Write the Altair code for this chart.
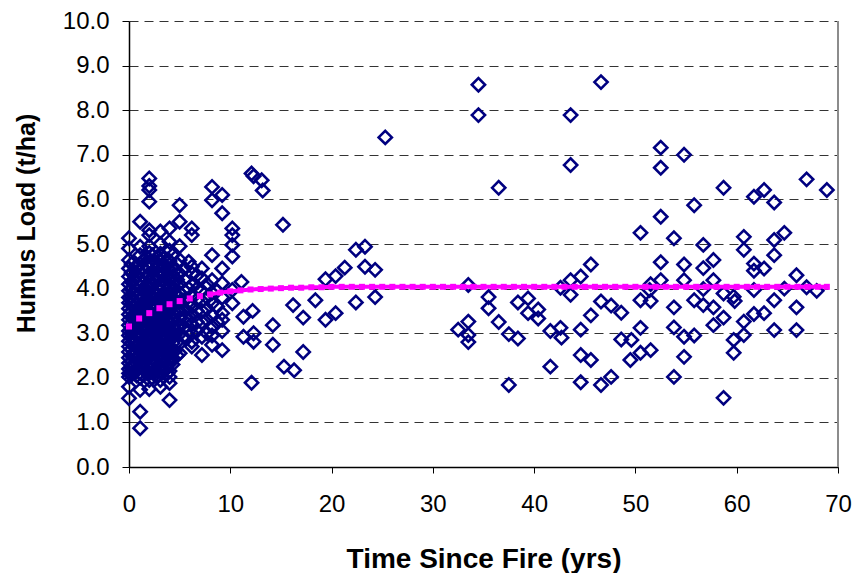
import altair as alt
import pandas as pd

# ---- observed humus loads, dense early-years columns (x position, list of loads) ----
col_x = [0.0, 0.25, 0.5, 0.75, 1.1, 1.35, 1.6, 1.8, 2.0, 2.3, 2.6, 2.85, 3.1, 3.35, 3.6, 3.8,
         4.0, 4.3, 4.5, 4.75, 5.0, 5.5, 5.9, 6.2, 6.7, 7.2, 7.7, 8.2, 8.7, 9.2, 10.2]
col_y = [
    [5.13, 4.9, 4.64, 4.45, 4.27, 4.1, 3.95, 3.8, 3.68, 3.55, 3.42, 3.3, 3.18, 3.05, 2.95, 2.82,
     2.7, 2.58, 2.45, 2.33, 2.2, 2.1, 2.02, 1.8, 1.54],
    [4.55, 4.35, 4.15, 3.98, 3.82, 3.66, 3.5, 3.36, 3.22, 3.08, 2.92, 2.78, 2.64, 2.5, 2.36,
     2.22, 2.08],
    [4.2, 3.9, 3.6, 3.35, 3.1, 2.8, 2.5, 2.3, 2.1],
    [4.5, 4.3, 4.12, 3.96, 3.8, 3.64, 3.48, 3.24, 2.98, 2.72, 2.58, 2.42, 2.18, 2.05],
    [5.5, 4.94, 4.75, 4.55, 4.38, 4.2, 4.05, 3.9, 3.75, 3.62, 3.5, 3.37, 3.25, 3.12, 3.0, 2.88,
     2.75, 2.62, 2.5, 2.38, 2.25, 2.12, 2.0, 1.73, 1.24, 0.87],
    [4.62, 4.46, 4.3, 4.12, 3.96, 3.82, 3.68, 3.54, 3.4, 3.26, 3.1, 2.95, 2.8, 2.66, 2.52, 2.36,
     2.2, 2.06],
    [4.4, 4.0, 3.7, 3.4, 3.1, 2.8, 2.5, 2.2],
    [4.7, 4.5, 4.3, 4.1, 3.9, 3.55, 3.25, 2.95, 2.65, 2.42, 2.28, 2.1],
    [6.47, 6.3, 6.21, 5.95, 5.31, 5.2, 4.95, 4.8, 4.6, 4.45, 4.3, 4.15, 4.0, 3.87, 3.73, 3.6,
     3.48, 3.35, 3.22, 3.1, 2.98, 2.85, 2.72, 2.6, 2.47, 2.35, 2.22, 2.1, 1.95, 1.75],
    [4.75, 4.55, 4.38, 4.22, 4.06, 3.92, 3.78, 3.62, 3.42, 3.28, 3.12, 2.92, 2.78, 2.62, 2.45,
     2.3, 2.12, 2.0],
    [4.6, 4.2, 3.9, 3.55, 3.25, 2.95, 2.65, 2.35],
    [4.7, 4.48, 4.3, 4.0, 3.7, 3.38, 3.08, 2.78, 2.48, 2.2, 2.05],
    [5.28, 5.0, 4.78, 4.6, 4.42, 4.25, 4.1, 3.95, 3.8, 3.66, 3.52, 3.4, 3.27, 3.14, 3.02, 2.9,
     2.77, 2.64, 2.52, 2.4, 2.27, 2.15, 1.95, 1.8],
    [4.68, 4.5, 4.32, 4.18, 4.02, 3.88, 3.72, 3.58, 3.44, 3.3, 3.16, 3.0, 2.86, 2.72, 2.58,
     2.44, 2.3, 2.12],
    [4.5, 4.1, 3.75, 3.45, 3.15, 2.85, 2.55, 2.25],
    [4.65, 4.3, 3.98, 3.62, 3.3, 3.0, 2.7, 2.4, 2.1],
    [5.35, 5.05, 4.85, 4.62, 4.42, 4.25, 4.08, 3.92, 3.78, 3.64, 3.5, 3.37, 3.24, 3.1, 2.97, 2.84,
     2.7, 2.56, 2.44, 2.32, 2.15, 2.02, 1.88, 1.5],
    [4.75, 4.5, 4.28, 4.12, 3.95, 3.8, 3.62, 3.45, 3.28, 3.12, 2.95, 2.78, 2.62, 2.45, 2.3],
    [4.4, 4.0, 3.65, 3.3, 2.95, 2.6],
    [4.55, 4.2, 3.85, 3.5, 3.15, 2.8, 2.5],
    [5.87, 5.5, 4.95, 4.64, 4.34, 4.1, 3.9, 3.7, 3.5, 3.32, 3.15, 2.98, 2.77, 2.55],
    [4.45, 4.2, 3.95, 3.75, 3.55, 3.35, 3.12, 2.9],
    [4.6, 4.0, 3.7, 3.3, 3.05],
    [5.35, 5.2, 4.49, 4.34, 4.08, 3.85, 3.6, 3.4, 3.2, 3.0, 2.81, 2.7],
    [4.3, 4.0, 3.75, 3.5, 3.25, 3.05],
    [4.45, 4.23, 3.95, 3.72, 3.5, 3.25, 2.92, 2.51],
    [4.1, 3.8, 3.55, 3.3, 3.0],
    [6.28, 5.98, 4.75, 4.19, 3.9, 3.67, 3.4, 3.15, 2.95, 2.74],
    [3.95, 3.6, 3.25],
    [6.1, 5.69, 4.45, 4.12, 3.8, 3.45, 3.3, 3.05, 2.62],
    [5.35, 5.2, 4.98, 4.72, 3.97, 3.67],
]

# ---- observed humus loads, later years ----
sparse_x = [11.1, 11.3, 11.3, 12.1, 12.3, 13.1, 13.2, 12.2, 12.3, 12.3, 12.1, 14.2, 14.2, 15.2,
            15.3, 16.3, 16.2, 17.2, 17.2, 18.4, 19.4, 19.4, 20.4, 20.4, 21.3, 22.4, 22.4, 23.3,
            23.3, 24.3, 24.3, 25.3,
            32.5, 33.5, 33.5, 33.5, 33.5, 34.5, 34.5, 35.5, 35.5, 36.5, 36.5, 37.5, 37.5, 38.4,
            38.4, 39.4, 39.4, 40.4, 40.4, 41.6, 41.6, 42.6, 42.6, 42.7, 43.6, 43.6, 43.6, 43.6,
            44.6, 44.6, 44.6, 44.6, 45.6, 45.6, 45.6, 46.6, 46.6, 46.6, 47.6, 47.6, 48.6, 48.6,
            49.6, 49.5, 50.5, 50.5, 50.5, 50.5, 51.5, 51.4, 51.5, 51.5, 52.5, 52.5, 52.5, 52.5,
            52.5, 53.8, 53.8, 53.8, 53.8, 54.8, 54.8, 54.8, 54.8, 54.8, 55.8, 55.8, 55.8, 56.7,
            56.7, 56.7, 56.7, 57.7, 57.7, 57.7, 57.7, 58.7, 58.7, 58.7, 58.7, 59.7, 59.8, 59.7,
            59.7, 60.7, 60.7, 60.7, 60.7, 61.7, 61.7, 61.7, 61.7, 61.7, 62.7, 62.7, 62.7, 63.7,
            63.7, 63.7, 63.7, 63.7, 64.7, 64.7, 65.9, 65.9, 65.9, 66.9, 66.9, 67.9, 68.9]
sparse_y = [4.15, 3.37, 2.92, 6.58, 6.52, 6.43, 6.2, 3.5, 3.0, 2.81, 1.89, 3.18, 2.74, 5.43,
            2.25, 2.17, 3.63, 3.35, 2.58, 3.74, 4.21, 3.3, 4.28, 3.45, 4.47, 4.87, 3.69, 4.94,
            4.49, 4.42, 3.81, 7.39,
            3.08, 4.08, 3.26, 2.96, 2.8, 8.57, 7.89, 3.81, 3.56, 6.26, 3.25, 2.98, 1.84, 3.69,
            2.88, 3.78, 3.45, 3.53, 3.33, 3.05, 2.25, 4.02, 3.12, 2.9, 7.89, 6.77, 4.19, 3.86,
            4.27, 3.08, 2.51, 1.9, 4.54, 3.4, 2.4, 8.63, 3.71, 1.84, 3.62, 2.02, 3.46, 2.86,
            2.85, 2.4, 5.25, 3.74, 3.12, 2.56, 4.1, 3.97, 3.72, 2.62, 7.16, 6.71, 5.61, 4.59,
            4.19, 5.13, 3.58, 3.13, 2.02, 7.0, 4.54, 4.19, 2.92, 2.47, 5.87, 3.74, 2.95, 4.98,
            4.46, 3.99, 3.63, 4.64, 4.19, 3.58, 3.18, 6.26, 3.89, 3.35, 1.55, 3.82, 3.72, 2.85,
            2.56, 5.16, 4.87, 3.26, 2.96, 6.06, 4.56, 4.4, 3.97, 3.43, 6.21, 4.45, 3.45, 5.93,
            5.09, 4.75, 3.74, 3.07, 5.25, 4.0, 4.3, 3.58, 3.07, 6.45, 4.03, 3.95, 6.21]

# ---- fitted accumulation curve ----
curve_x = [0, 1, 2, 3, 4, 5, 6, 7, 8, 9, 10, 11, 12, 13, 14, 15, 16, 17, 18, 19, 20,
           21, 22, 23, 24, 25, 26, 27, 28, 29, 30, 31, 32, 33, 34, 35, 36, 37, 38, 39, 40,
           41, 42, 43, 44, 45, 46, 47, 48, 49, 50, 51, 52, 53, 54, 55, 56, 57, 58, 59, 60,
           61, 62, 63, 64, 65, 66, 67, 68, 68.9]
curve_y = [3.15, 3.33, 3.45, 3.56, 3.65, 3.72, 3.78, 3.83, 3.87, 3.91, 3.94, 3.96, 3.98, 3.99,
           4.0, 4.01, 4.02, 4.02, 4.03, 4.03, 4.04, 4.04, 4.04, 4.04, 4.04, 4.04, 4.04, 4.04,
           4.04, 4.04, 4.04, 4.04, 4.04, 4.04, 4.04, 4.04, 4.04, 4.04, 4.04, 4.04, 4.04, 4.04,
           4.04, 4.04, 4.04, 4.04, 4.04, 4.04, 4.04, 4.04, 4.04, 4.04, 4.04, 4.04, 4.04, 4.04,
           4.04, 4.04, 4.04, 4.04, 4.04, 4.04, 4.04, 4.04, 4.04, 4.04, 4.04, 4.04, 4.04, 4.04]
curve_line_start = 8

x_ticks = [0, 10, 20, 30, 40, 50, 60, 70]
y_ticks = [0, 1, 2, 3, 4, 5, 6, 7, 8, 9, 10]

# ---- tables ----
rows = []
for cx, ys in zip(col_x, col_y):
    for v in ys:
        rows.append({"t": cx, "load": v})
for cx, v in zip(sparse_x, sparse_y):
    rows.append({"t": cx, "load": v})
obs = pd.DataFrame(rows)
fit = pd.DataFrame({"t": curve_x, "load": curve_y})
fit_line = fit[fit["t"] >= curve_line_start]

FONT = "Liberation Sans"
xscale = alt.Scale(domain=[0, 70], nice=False, zero=False)
yscale = alt.Scale(domain=[0, 10], nice=False)

xaxis = alt.Axis(values=x_ticks, grid=False, format="d", tickSize=6, tickColor="black",
                 domainColor="black", domainWidth=1.5, labelFont=FONT, labelFontSize=24,
                 labelColor="black", labelPadding=19, labelFlush=False,
                 title="Time Since Fire (yrs)",
                 titleFont=FONT, titleFontSize=28, titleFontWeight="bold", titleColor="black",
                 titlePadding=29)
yaxis = alt.Axis(values=y_ticks, format=".1f", grid=True, gridDash=[9, 6], gridColor="#333333",
                 gridWidth=1, tickSize=7, tickColor="black", domainColor="black", domainWidth=1.5,
                 labelFont=FONT, labelFontSize=24, labelColor="black", labelPadding=13,
                 labelFlush=False,
                 title="Humus Load (t/ha)", titleFont=FONT, titleFontSize=25,
                 titleFontWeight="bold", titleColor="black", titleAngle=270,
                 titleAlign="center", titleBaseline="middle", titleX=-103, titleY=202)

points = alt.Chart(obs).mark_point(shape="diamond", filled=False, color="#000080",
                                   strokeWidth=2.6, size=175, opacity=1).encode(
    x=alt.X("t:Q", scale=xscale, axis=xaxis),
    y=alt.Y("load:Q", scale=yscale, axis=yaxis),
)

border = alt.Chart(pd.DataFrame({"t": [70]})).mark_rule(color="#8c8c8c", strokeWidth=2).encode(
    x=alt.X("t:Q", scale=xscale)
)

line = alt.Chart(fit_line).mark_line(color="#ff00ff", strokeWidth=4).encode(
    x=alt.X("t:Q", scale=xscale), y=alt.Y("load:Q", scale=yscale)
)
squares = alt.Chart(fit).mark_point(shape="square", filled=True, color="#ff00ff",
                                    size=36, opacity=1).encode(
    x=alt.X("t:Q", scale=xscale), y=alt.Y("load:Q", scale=yscale)
)

chart = alt.layer(points, border, line, squares).properties(
    width=709, height=446,
    autosize=alt.AutoSizeParams(type="none"),
    padding={"left": 121, "top": 13, "right": 20, "bottom": 106},
    background="white",
).configure_view(stroke=None)

chart.save("out.html", embed_options={"renderer": "svg", "actions": False})
